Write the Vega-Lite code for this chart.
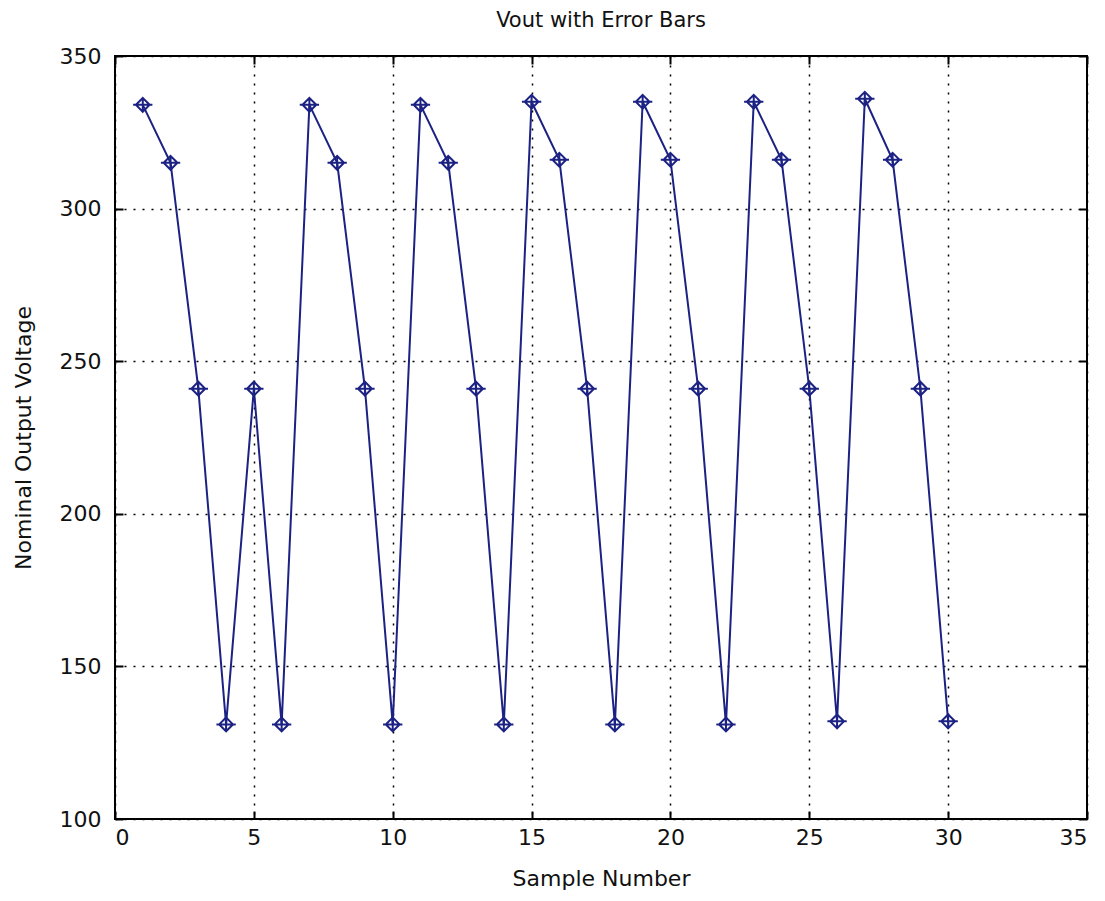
{
  "$schema": "https://vega.github.io/schema/vega-lite/v6.json",
  "autosize": "none",
  "width": 972,
  "height": 763,
  "padding": {"left": 115, "top": 56, "right": 18, "bottom": 82},
  "background": "white",
  "title": {"text": "Vout with Error Bars", "font": "DejaVu Sans", "fontSize": 21, "fontWeight": "normal", "color": "#111", "offset": 14},
  "config": {
    "view": {"stroke": "black", "strokeWidth": 2},
    "axis": {"grid": true, "gridColor": "black", "gridDash": [2, 7], "gridWidth": 1.5, "gridOpacity": 1, "domain": false, "tickColor": "black", "tickSize": -8, "tickWidth": 2, "labelFont": "DejaVu Sans", "labelFontSize": 22, "labelColor": "#111", "titleFont": "DejaVu Sans", "titleFontSize": 22, "titleFontWeight": "normal", "titleColor": "#111"}
  },
  "data": {"values": [
    {"sample": 1, "vout": 334}, {"sample": 2, "vout": 315}, {"sample": 3, "vout": 241}, {"sample": 4, "vout": 131},
    {"sample": 5, "vout": 241}, {"sample": 6, "vout": 131}, {"sample": 7, "vout": 334}, {"sample": 8, "vout": 315},
    {"sample": 9, "vout": 241}, {"sample": 10, "vout": 131}, {"sample": 11, "vout": 334}, {"sample": 12, "vout": 315},
    {"sample": 13, "vout": 241}, {"sample": 14, "vout": 131}, {"sample": 15, "vout": 335}, {"sample": 16, "vout": 316},
    {"sample": 17, "vout": 241}, {"sample": 18, "vout": 131}, {"sample": 19, "vout": 335}, {"sample": 20, "vout": 316},
    {"sample": 21, "vout": 241}, {"sample": 22, "vout": 131}, {"sample": 23, "vout": 335}, {"sample": 24, "vout": 316},
    {"sample": 25, "vout": 241}, {"sample": 26, "vout": 132}, {"sample": 27, "vout": 336}, {"sample": 28, "vout": 316},
    {"sample": 29, "vout": 241}, {"sample": 30, "vout": 132}
  ]},
  "layer": [
    {
      "mark": {"type": "line", "color": "#1c2283", "strokeWidth": 2},
      "encoding": {
        "x": {"field": "sample", "type": "quantitative", "scale": {"domain": [0, 35], "nice": false}, "axis": {"values": [0,5,10,15,20,25,30,35], "title": "Sample Number", "titleY": 49, "labelPadding": 16}},
        "y": {"field": "vout", "type": "quantitative", "scale": {"domain": [100, 350], "nice": false, "zero": false}, "axis": {"values": [100,150,200,250,300,350], "title": "Nominal Output Voltage", "titleX": -92, "titleBaseline": "middle", "labelPadding": 22}}
      }
    },
    {
      "mark": {"type": "point", "shape": "M0,-1L1,0L0,1L-1,0ZM-1.4,0L1.4,0M0,-1L0,1", "filled": false, "stroke": "#1c2283", "strokeWidth": 2, "size": 190, "opacity": 1},
      "encoding": {
        "x": {"field": "sample", "type": "quantitative", "scale": {"domain": [0, 35], "nice": false}, "axis": {"orient": "top", "values": [0,5,10,15,20,25,30,35], "labels": false, "grid": false, "title": null}},
        "y": {"field": "vout", "type": "quantitative", "scale": {"domain": [100, 350], "nice": false, "zero": false}, "axis": {"orient": "right", "values": [100,150,200,250,300,350], "labels": false, "grid": false, "title": null}}
      }
    }
  ],
  "resolve": {"axis": {"x": "independent", "y": "independent"}}
}
